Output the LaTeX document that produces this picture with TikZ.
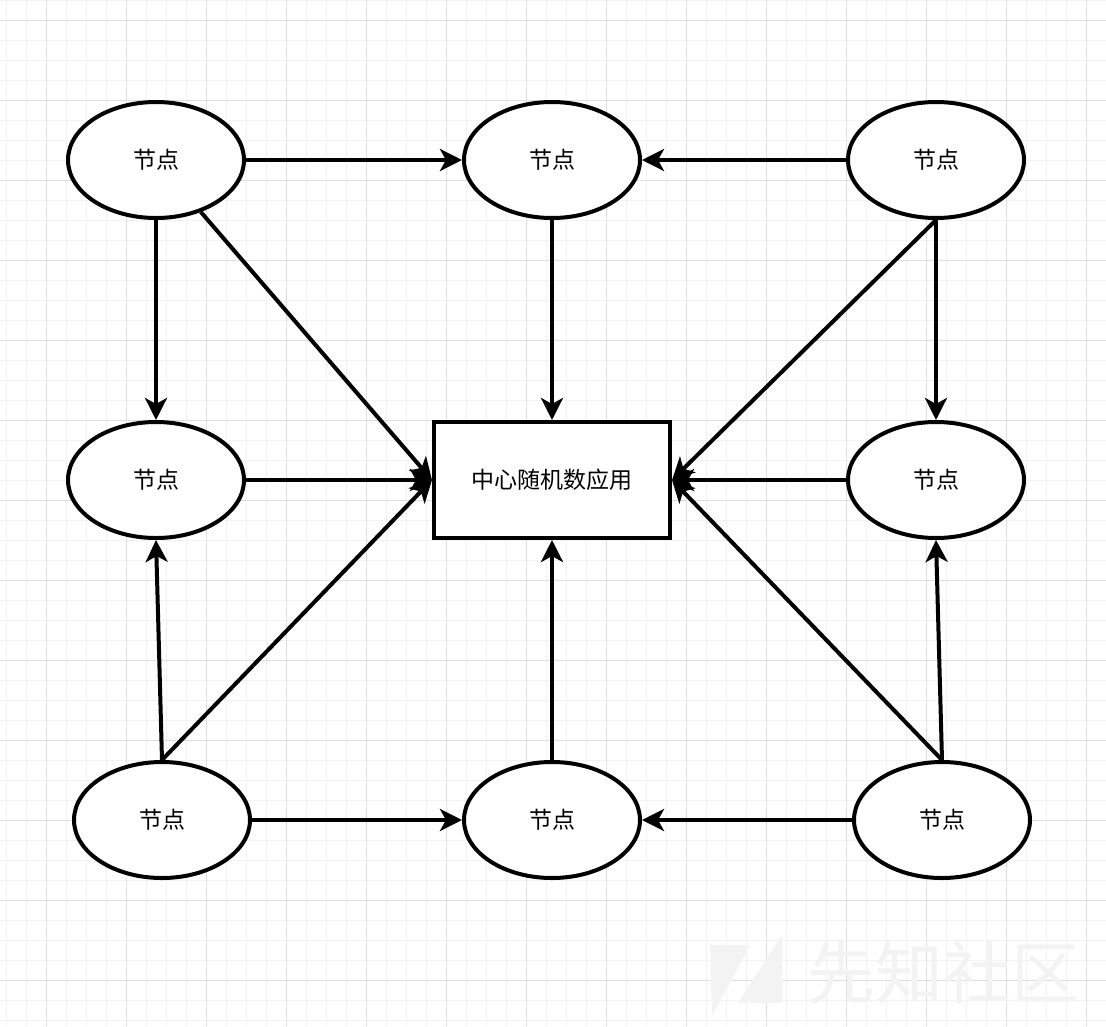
\documentclass[tikz,border=0pt]{standalone}
\usepackage{fontspec}
\newfontfamily\cjk{Noto Sans CJK SC}
\usetikzlibrary{shapes.geometric,arrows.meta}
\definecolor{minorgrid}{HTML}{F2F2F2}
\definecolor{majorgrid}{HTML}{DEDEDE}
\definecolor{wmark}{HTML}{F3F3F3}
\tikzset{
  nodeell/.style={ellipse,draw=black,line width=4pt,fill=white,minimum width=176pt,minimum height=116pt,inner sep=0pt,font=\cjk\fontsize{23}{25}\selectfont},
  centerbox/.style={rectangle,draw=black,line width=4pt,fill=white,minimum width=236pt,minimum height=116pt,inner sep=0pt,font=\cjk\fontsize{23}{25}\selectfont},
  conn/.style={line width=4pt,-{Stealth[length=22pt,width=22pt,inset=6pt]}}
}
\begin{document}
\begin{tikzpicture}[x=1pt,y=-1pt]
\useasboundingbox (0,0) rectangle (1106,1026);
\fill[white] (0,0) rectangle (1106,1026);
% grid
\foreach \x in {6,26,...,1106} \draw[minorgrid,line width=1pt] (\x,0) -- (\x,1026);
\foreach \y in {0,20,...,1026} \draw[minorgrid,line width=1pt] (0,\y) -- (1106,\y);
\foreach \x in {46,126,...,1106} \draw[majorgrid,line width=1pt] (\x,0) -- (\x,1026);
\foreach \y in {20,100,...,1026} \draw[majorgrid,line width=1pt] (0,\y) -- (1106,\y);
% watermark
\fill[wmark] (710,945) -- (750,945) -- (712,1016) -- cycle;
\fill[wmark] (782,935) -- (782,1003) -- (738,1003) -- cycle;
\node[text=wmark,font=\cjk\fontsize{68}{70}\selectfont,inner sep=0pt] (wm) at (943,973) {先知社区};
% nodes
\node[nodeell] (TL) at (156,160) {节点};
\node[nodeell] (TM) at (552,160) {节点};
\node[nodeell] (TR) at (936,160) {节点};
\node[nodeell] (ML) at (156,480) {节点};
\node[nodeell] (MR) at (936,480) {节点};
\node[nodeell] (BL) at (162,820) {节点};
\node[nodeell] (BM) at (552,820) {节点};
\node[nodeell] (BR) at (942,820) {节点};
\node[centerbox] (C) at (552,480) {中心随机数应用};
% connectors
\draw[conn] (TL.east) -- (TM.west);
\draw[conn] (TR.west) -- (TM.east);
\draw[conn] (TL.south) -- (ML.north);
\draw[conn] (TL) -- (C.west);
\draw[conn] (TM.south) -- (C.north);
\draw[conn] (TR.south) -- (C.east);
\draw[conn] (TR.south) -- (MR.north);
\draw[conn] (ML.east) -- (C.west);
\draw[conn] (MR.west) -- (C.east);
\draw[conn] (BL.north) -- (ML.south);
\draw[conn] (BL.north) -- (C.west);
\draw[conn] (BM.north) -- (C.south);
\draw[conn] (BL.east) -- (BM.west);
\draw[conn] (BR.west) -- (BM.east);
\draw[conn] (BR.north) -- (MR.south);
\draw[conn] (BR.north) -- (C.east);
\end{tikzpicture}
\end{document}
